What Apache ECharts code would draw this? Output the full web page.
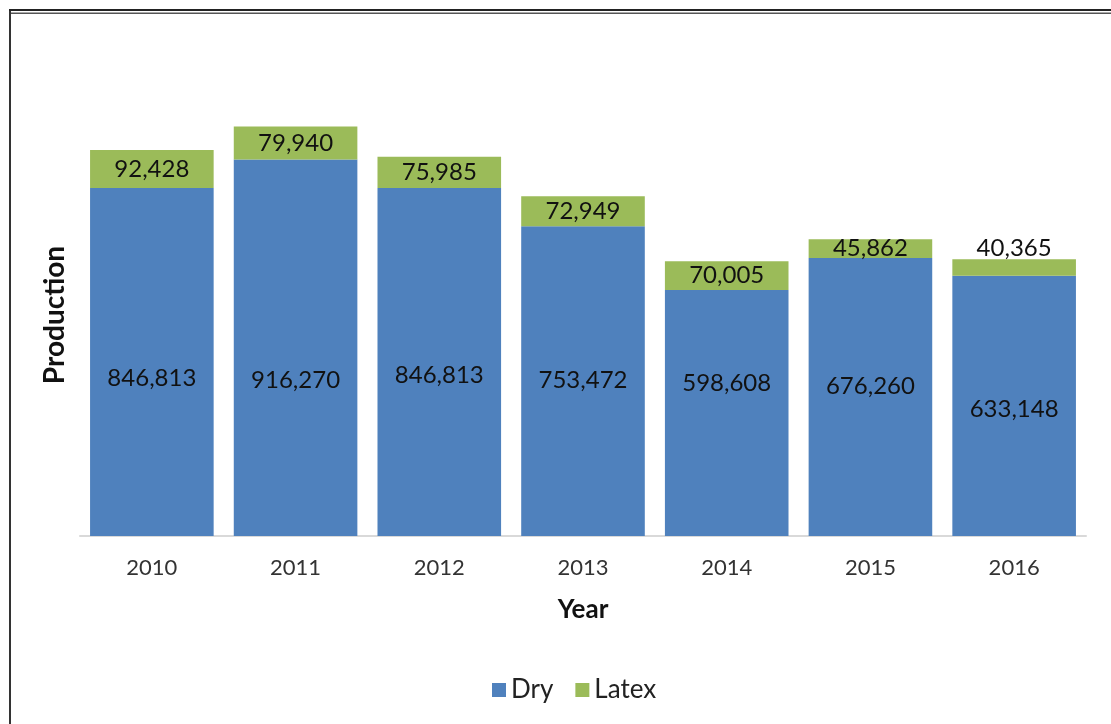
<!DOCTYPE html>
<html>
<head>
<meta charset="utf-8">
<script src="https://cdn.jsdelivr.net/npm/echarts@6/dist/echarts.min.js"></script>
<style>
  html, body { margin: 0; padding: 0; background: #fff; }
  #chart { width: 1111px; height: 724px; }
</style>
</head>
<body>
<div id="chart"></div>
<script>
// Natural rubber production by year, split into dry rubber and latex
const years = ['2010', '2011', '2012', '2013', '2014', '2015', '2016'];
const dry = [846813, 916270, 846813, 753472, 598608, 676260, 633148];
const latex = [92428, 79940, 75985, 72949, 70005, 45862, 40365];

// Vertical nudges for the value labels (px), kept apart from the values
const dryLabelShift = [16, 33, 13, -1, -30, -11, 3];
const latexLabelPos = ['inside', 'inside', 'inside', 'inside', 'inside', 'inside', 'top'];

const FONT = 'Lato';
const chart = echarts.init(document.getElementById('chart'));

const fmt = v => v.toLocaleString('en-US');

chart.setOption({
  animation: false,
  textStyle: { fontFamily: FONT },
  grid: { left: 80, right: 25, top: 125, bottom: 188 },
  legend: {
    left: 487,
    top: 672,
    itemWidth: 14,
    itemHeight: 14,
    itemGap: 22,
    icon: 'rect',
    textStyle: { fontFamily: FONT, fontSize: 26, color: '#222' },
    data: ['Dry', 'Latex']
  },
  xAxis: {
    type: 'category',
    data: years,
    name: 'Year',
    nameLocation: 'middle',
    nameGap: 61,
    nameTextStyle: { fontFamily: FONT, fontSize: 26, fontWeight: 'bold', color: '#111' },
    axisLine: { lineStyle: { color: '#d9d9d9', width: 2 } },
    axisTick: { show: false },
    axisLabel: { margin: 21, fontSize: 22, color: '#333', fontFamily: FONT }
  },
  yAxis: {
    type: 'value',
    min: 0,
    max: 1000000,
    show: false,
    splitLine: { show: false }
  },
  graphic: [
    // Framing rules: heavy double line across the top, thin line down the left
    { type: 'rect', shape: { x: 9, y: 9, width: 1102, height: 2 }, style: { fill: '#222' }, silent: true },
    { type: 'rect', shape: { x: 9, y: 12.5, width: 1102, height: 1.5 }, style: { fill: '#555' }, silent: true },
    { type: 'rect', shape: { x: 9, y: 11, width: 2, height: 713 }, style: { fill: '#333' }, silent: true },
    {
      type: 'text',
      x: 55, y: 315,
      rotation: Math.PI / 2,
      style: {
        text: 'Production',
        fontFamily: FONT, fontSize: 28, fontWeight: 'bold', fill: '#111',
        align: 'center', verticalAlign: 'middle'
      }
    }
  ],
  series: [
    {
      name: 'Dry',
      type: 'bar',
      stack: 'total',
      barCategoryGap: '14%',
      itemStyle: { color: '#4F81BD' },
      data: dry.map((v, i) => ({
        value: v,
        label: { offset: [0, dryLabelShift[i]] }
      })),
      label: {
        show: true,
        position: 'inside',
        formatter: p => fmt(p.value),
        fontFamily: FONT, fontSize: 24, color: '#111'
      }
    },
    {
      name: 'Latex',
      type: 'bar',
      stack: 'total',
      barCategoryGap: '14%',
      itemStyle: { color: '#9BBB59' },
      data: latex.map((v, i) => ({
        value: v,
        label: { position: latexLabelPos[i], distance: -1 }
      })),
      label: {
        show: true,
        position: 'inside',
        formatter: p => fmt(p.value),
        fontFamily: FONT, fontSize: 24, color: '#111'
      }
    }
  ]
});
</script>
</body>
</html>
